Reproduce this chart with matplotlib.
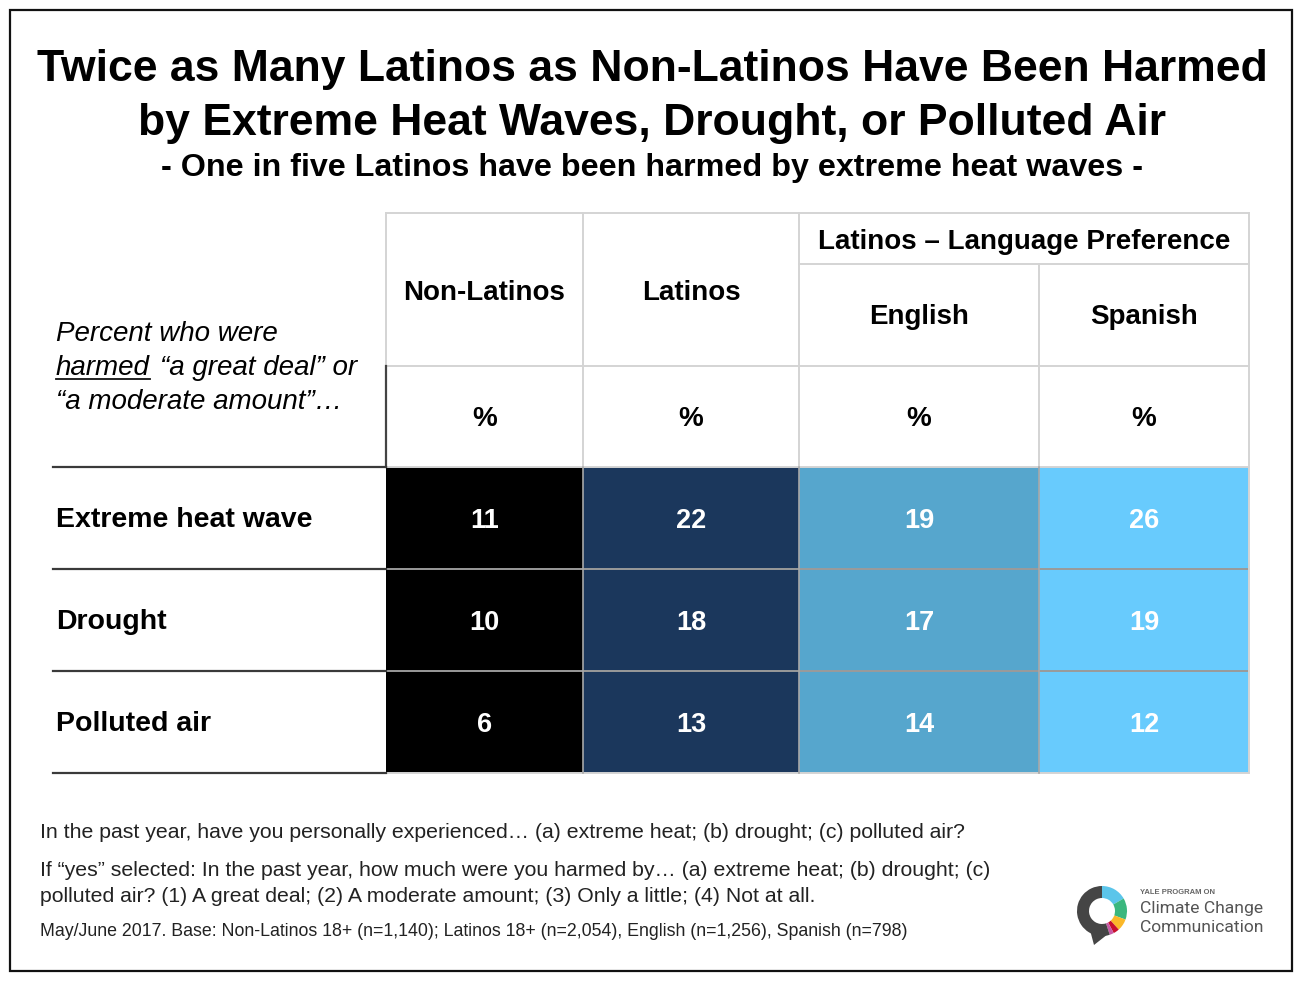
import matplotlib
matplotlib.use("Agg")
import matplotlib.pyplot as plt
from matplotlib.patches import Rectangle, Wedge, Polygon
import numpy as np

# ---------------- data ----------------
title_lines = ["Twice as Many Latinos as Non-Latinos Have Been Harmed",
               "by Extreme Heat Waves, Drought, or Polluted Air"]
subtitle = "- One in five Latinos have been harmed by extreme heat waves -"
groups = ["Non-Latinos", "Latinos", "English", "Spanish"]
group_header = "Latinos \u2013 Language Preference"
categories = ["Extreme heat wave", "Drought", "Polluted air"]
non_latinos = [11, 10, 6]
latinos = [22, 18, 13]
english = [19, 17, 14]
spanish = [26, 19, 12]
footnotes = [
    "In the past year, have you personally experienced\u2026 (a) extreme heat; (b) drought; (c) polluted air?",
    "If \u201cyes\u201d selected: In the past year, how much were you harmed by\u2026 (a) extreme heat; (b) drought; (c)",
    "polluted air? (1) A great deal; (2) A moderate amount; (3) Only a little; (4) Not at all.",
]
base_note = ("May/June 2017. Base: Non-Latinos 18+ (n=1,140); Latinos 18+ (n=2,054), "
             "English (n=1,256), Spanish (n=798)")

values = [non_latinos, latinos, english, spanish]
col_colors = ["#000000", "#1b375c", "#56a6cd", "#68cbfd"]

# ---------------- layout ----------------
W, H = 1304, 990
fig = plt.figure(figsize=(W / 100, H / 100), dpi=100)
ax = fig.add_axes([0, 0, 1, 1])
ax.set_xlim(0, W)
ax.set_ylim(H, 0)
ax.axis("off")

FONT = "Liberation Sans"

# outer frame
ax.add_patch(Rectangle((10, 10), 1282, 961, fill=False, ec="#111111", lw=1.6))

# titles
ax.text(652, 70, title_lines[0], ha="center", va="center", fontsize=32,
        fontweight="bold", family=FONT)
ax.text(652, 123, title_lines[1], ha="center", va="center", fontsize=32,
        fontweight="bold", family=FONT)
ax.text(652, 168, subtitle, ha="center", va="center", fontsize=23.2,
        fontweight="bold", family=FONT)

# table geometry
col_edges = [386, 583, 799, 1039, 1249]
row_edges = [467, 569, 671, 773]
head_top, group_bot, head_bot = 213, 264, 366
light = "#d4d4d4"

# data cells
for j, vals in enumerate(values):
    x0, x1 = col_edges[j], col_edges[j + 1]
    for i, v in enumerate(vals):
        y0, y1 = row_edges[i], row_edges[i + 1]
        ax.add_patch(Rectangle((x0, y0), x1 - x0, y1 - y0, fc=col_colors[j], ec="none"))
        ax.text((x0 + x1) / 2, (y0 + y1) / 2 + 3, str(v), ha="center", va="center",
                color="white", fontsize=19.5, fontweight="bold", family=FONT)

# grid lines inside data area
for y in row_edges[1:-1]:
    ax.plot([col_edges[0], col_edges[-1]], [y, y], color="#9a9a9a", lw=1.4, zorder=3)
for x in col_edges[1:-1]:
    ax.plot([x, x], [row_edges[0], row_edges[-1]], color="#a8a8a8", lw=1.2, zorder=3)
ax.plot([col_edges[-1], col_edges[-1]], [row_edges[0], row_edges[-1]], color=light, lw=1.4, zorder=3)
ax.plot([col_edges[0], col_edges[-1]], [row_edges[-1], row_edges[-1]], color=light, lw=1.4, zorder=2)

# header grid
ax.plot([col_edges[0], col_edges[-1]], [head_top, head_top], color=light, lw=1.4)
ax.plot([col_edges[2], col_edges[-1]], [group_bot, group_bot], color=light, lw=1.4)
ax.plot([col_edges[0], col_edges[-1]], [head_bot, head_bot], color=light, lw=1.4)
ax.plot([col_edges[0], col_edges[-1]], [row_edges[0], row_edges[0]], color=light, lw=1.4, zorder=1)
for x in [col_edges[1], col_edges[2], col_edges[4]]:
    ax.plot([x, x], [head_top, row_edges[0]], color=light, lw=1.4)
ax.plot([col_edges[3], col_edges[3]], [group_bot, row_edges[0]], color=light, lw=1.4)
ax.plot([col_edges[0], col_edges[0]], [head_top, head_bot], color=light, lw=1.4)
ax.plot([col_edges[0], col_edges[0]], [head_bot, row_edges[0]], color="#444444", lw=1.6)

# left label rules
for y in row_edges:
    ax.plot([53, col_edges[0]], [y, y], color="#3a3a3a", lw=1.6, zorder=4)

# header text
hdr = dict(ha="center", va="center", fontsize=20, fontweight="bold", family=FONT)
ax.text((col_edges[0] + col_edges[1]) / 2, 293, groups[0], **hdr)
ax.text((col_edges[1] + col_edges[2]) / 2, 293, groups[1], **hdr)
ax.text((col_edges[2] + col_edges[4]) / 2, 242, group_header, **hdr)
ax.text((col_edges[2] + col_edges[3]) / 2, 317, groups[2], **hdr)
ax.text((col_edges[3] + col_edges[4]) / 2, 317, groups[3], **hdr)
for j in range(4):
    ax.text((col_edges[j] + col_edges[j + 1]) / 2, 419, "%", **hdr)

# row labels
for i, c in enumerate(categories):
    ax.text(56, (row_edges[i] + row_edges[i + 1]) / 2 + 2, c, ha="left", va="center",
            fontsize=20.5, fontweight="bold", family=FONT)

# italic description
it = dict(ha="left", va="center", fontsize=20, fontstyle="italic", family=FONT)
ax.text(56, 334, "Percent who were", **it)
t_h = ax.text(56, 368, "harmed", **it)
fig.canvas.draw()
r = fig.canvas.get_renderer()
bb = t_h.get_window_extent(r)
inv = ax.transData.inverted()
(xa, _), (xb, _) = inv.transform([(bb.x0, bb.y0), (bb.x1, bb.y0)])
ax.plot([xa, xb], [379, 379], color="#111111", lw=1.3)
ax.text(xb + 10, 368, "\u201ca great deal\u201d or", **it)
ax.text(56, 402, "\u201ca moderate amount\u201d\u2026", **it)

# footnotes
fn = dict(ha="left", va="center", fontsize=15.3, family=FONT, color="#222222")
ax.text(40, 833, footnotes[0], **fn)
ax.text(40, 870, footnotes[1], **fn)
ax.text(40, 896, footnotes[2], **fn)
ax.text(40, 932, base_note, ha="left", va="center", fontsize=12.75, family=FONT, color="#222222")

# logo
cx, cy, ro, ri = 1102, 911, 25, 13
segs = [(30, 90, "#5bc5ea"), (-20, 30, "#3bb77e"), (-48, -20, "#fbb829"),
        (-62, -48, "#c8102e"), (-72, -62, "#c75aa6"), (-270, -72, "#454545")]
for a0, a1, c in segs:
    ax.add_patch(Wedge((cx, cy), ro, -a1, -a0, width=ro - ri, fc=c, ec="none"))
ax.add_patch(Polygon([[1090, 930], [1108, 934], [1094, 945]], closed=True,
                     fc="#454545", ec="none"))
ax.text(1140, 893, "YALE PROGRAM ON", ha="left", va="center", fontsize=5.5,
        fontweight="bold", family=FONT, color="#666666")
ax.text(1140, 909, "Climate Change", ha="left", va="center", fontsize=12.6,
        family="Roboto", color="#555555")
ax.text(1140, 927, "Communication", ha="left", va="center", fontsize=12.6,
        family="Roboto", color="#555555")

fig.savefig("out.png", dpi=100, facecolor="white")
